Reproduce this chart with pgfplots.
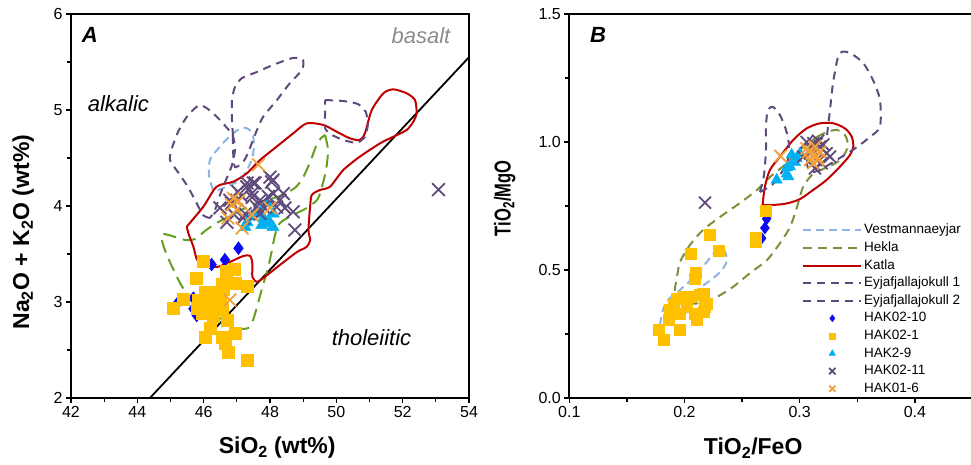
\documentclass[border=0pt]{standalone}
\usepackage{pgfplots}
\pgfplotsset{compat=1.18}
\usepackage{fontspec}
\setmainfont{Liberation Sans}
\definecolor{katla}{RGB}{192,0,0}
\definecolor{heklaA}{RGB}{102,160,32}
\definecolor{heklaB}{RGB}{119,147,60}
\definecolor{vest}{RGB}{141,180,226}
\definecolor{eyja}{RGB}{96,74,123}
\definecolor{hakblue}{RGB}{10,10,240}
\definecolor{hakyellow}{RGB}{255,192,0}
\definecolor{hakcyan}{RGB}{0,176,240}
\definecolor{hakorange}{RGB}{242,160,60}
\definecolor{basaltgray}{RGB}{140,140,140}
\pgfplotsset{
  lineleg/.style={legend image code/.code={\draw[##1, line width=2pt] (0pt,0pt) -- (58pt,0pt);}},
  markleg/.style={legend image code/.code={\draw[##1,mark size=#1] plot coordinates {(29pt,0pt)};}},
  common/.style={
    scale only axis, height=384pt,
    axis line style={line width=1.8pt},
    every tick/.style={black, line width=1.3pt},
    tick align=outside, xtick pos=bottom, ytick pos=left,
    major tick length=5pt, minor tick length=4pt,
    minor x tick num=1, minor y tick num=1,
    /pgf/number format/assume math mode=true,
    tick label style={font=\fontsize{16}{16}\selectfont},
    label style={font=\fontsize{23}{23}\bfseries},
  },
}
\begin{document}
\begin{tikzpicture}
\useasboundingbox (0,0) rectangle (971pt,465pt);
% ---------------- Panel A ----------------
\begin{axis}[common, at={(71pt,67pt)}, anchor=south west, width=398pt,
  xmin=42, xmax=54, ymin=2, ymax=6,
  xtick={42,44,...,54}, ytick={2,3,4,5,6},
  xlabel={SiO\textsubscript{2} (wt\%)},
  ylabel={Na\textsubscript{2}O + K\textsubscript{2}O (wt\%)},
  xlabel style={at={(axis description cs:0.518,-0.13)}, anchor=center},
  ylabel style={at={(axis description cs:-0.12,0.432)}, anchor=center},
]
\addplot[black, line width=1.8pt] coordinates {(44.38,2) (54,5.55)};
% Vestmannaeyjar
\addplot[vest, line width=2pt, dash pattern=on 8pt off 5pt, smooth, tension=0.5] coordinates {
(46.28,4.167)(46.16,4.323)(46.19,4.479)(46.43,4.594)(46.73,4.708)(47.03,4.792)(47.28,4.813)(47.46,4.760)(47.52,4.635)(47.46,4.500)(47.31,4.375)(47.09,4.271)(46.73,4.208)(46.43,4.167)(46.28,4.167)};
% Hekla
\addplot[heklaA, line width=2pt, dash pattern=on 13pt off 7pt, smooth, tension=0.4] coordinates {
(49.66,4.740)(49.75,4.583)(49.69,4.375)(49.54,4.167)(49.42,4.063)(49.11,3.979)(48.69,3.906)(48.30,3.823)(48.15,3.698)(48.06,3.542)(47.94,3.354)(47.79,3.177)(47.64,2.990)(47.49,2.813)(47.34,2.729)(47.10,2.719)(46.88,2.740)(46.49,2.833)(45.89,2.969)(45.53,3.073)(45.32,3.177)(45.17,3.281)(44.98,3.417)(44.83,3.542)(44.74,3.646)(44.77,3.708)(45.04,3.688)(45.44,3.646)(45.74,3.656)(46.04,3.740)(46.34,3.813)(46.79,3.896)(47.25,3.979)(47.70,4.042)(48.30,4.104)(48.75,4.188)(48.99,4.292)(49.21,4.458)(49.39,4.625)(49.54,4.708)(49.66,4.740)};
% Katla
\addplot[katla, line width=2pt, smooth, tension=0.45] coordinates {
(45.49,3.785)(45.99,3.993)(46.39,4.201)(46.89,4.253)(47.30,4.340)(47.70,4.479)(48.20,4.618)(48.70,4.757)(49.11,4.861)(49.61,4.844)(50.01,4.774)(50.41,4.705)(50.71,4.688)(50.86,4.757)(51.07,5.000)(51.42,5.174)(51.72,5.215)(52.12,5.174)(52.37,5.104)(52.42,4.965)(52.32,4.878)(52.12,4.792)(51.72,4.722)(51.32,4.653)(50.71,4.514)(50.21,4.375)(49.81,4.201)(49.51,4.167)(49.26,4.115)(49.21,3.993)(49.16,3.750)(49.21,3.646)(49.11,3.576)(48.81,3.52)(48.39,3.41)(47.91,3.28)(47.62,3.21)(47.47,3.26)(47.47,3.40)(47.40,3.48)(47.20,3.48)(46.79,3.417)(46.40,3.365)(46.00,3.39)(45.80,3.44)(45.69,3.576)(45.54,3.715)(45.49,3.785)};
% Eyjafjallajokull 1
\addplot[eyja, line width=2pt, dash pattern=on 8pt off 6pt, smooth, tension=0.4] coordinates {
(46.191,3.875)(45.980,3.906)(45.738,4.063)(45.527,4.198)(45.286,4.323)(44.985,4.479)(45.045,4.604)(45.226,4.771)(45.467,4.917)(45.678,5.000)(45.889,5.052)(46.130,5.010)(46.432,4.917)(46.703,4.813)(46.884,4.729)(46.944,4.583)(46.854,4.427)(46.673,4.271)(46.492,4.115)(46.341,3.958)(46.191,3.875)};
% Eyjafjallajokull 2
\addplot[eyja, line width=2pt, dash pattern=on 8pt off 6pt, smooth, tension=0.4] coordinates {
(46.884,4.729)(46.854,4.896)(46.854,5.104)(46.944,5.240)(47.155,5.333)(47.608,5.396)(48.090,5.469)(48.693,5.542)(48.994,5.521)(48.964,5.417)(48.602,5.281)(48.210,5.104)(47.788,4.927)(47.608,4.792)(47.487,4.688)(47.336,4.552)(47.185,4.458)(46.944,4.406)(46.884,4.583)(46.884,4.729)};
\addplot[eyja, line width=2pt, dash pattern=on 8pt off 6pt, smooth, tension=0.3] coordinates {
(49.66,5.104)(50.20,5.094)(50.65,5.063)(50.89,4.979)(50.95,4.844)(50.86,4.719)(50.62,4.656)(50.20,4.688)(49.81,4.750)(49.66,4.813)(49.66,4.969)(49.66,5.104)};
% HAK02-10
\addplot[only marks, mark=diamond*, mark size=6.5pt, mark options={fill=hakblue, draw=hakblue}] coordinates {
(46.24,3.39)(46.64,3.44)(47.05,3.56)(45.69,3.04)(45.79,2.86)(45.24,3.00)(46.49,2.93)(45.69,2.93)(45.9,2.98)};
% HAK02-1
\addplot[only marks, mark=square*, mark size=6pt, mark options={fill=hakyellow, draw=hakyellow}] coordinates {
(45.98,3.42)(45.77,3.25)(46.67,3.32)(46.91,3.34)(46.94,3.20)(47.31,3.16)(46.55,3.19)(46.04,3.10)(46.25,3.10)(45.38,3.03)(45.08,2.94)(45.83,3.02)(46.13,3.00)(46.49,3.00)(45.80,2.94)(46.13,2.90)(46.55,2.92)(46.70,2.81)(46.19,2.73)(46.04,2.63)(46.55,2.63)(46.94,2.68)(46.73,2.48)(46.64,2.57)(47.31,2.39)(46.58,3.13)(46.0,2.97)(46.3,2.95)(46.4,3.05)(45.95,2.88)(46.1,3.06)(46.3,2.85)};
% HAK2-9
\addplot[only marks, mark=triangle*, mark size=7pt, mark options={fill=hakcyan, draw=hakcyan}] coordinates {
(47.25,3.78)(47.31,3.83)(47.6,3.92)(47.70,3.93)(47.80,3.87)(48.0,3.82)(48.09,3.78)(47.45,3.89)(48.1,3.92)(47.91,4.03)(47.75,3.80)(47.95,3.85)};
% HAK02-11
\addplot[only marks, mark=x, mark size=9pt, mark options={draw=eyja, line width=1.8pt}] coordinates {
(47.0,4.06)(47.30,4.20)(47.50,4.24)(47.45,4.13)(47.15,4.10)(47.70,4.06)(48.05,4.25)(48.10,4.13)(48.30,4.06)(48.20,3.99)(48.70,3.94)(48.75,3.75)(46.84,4.03)(46.89,3.92)(47.80,3.99)(47.95,4.10)(47.6,3.99)(48.40,4.13)(53.08,4.17)(46.49,3.98)(47.25,3.92)(47.7,3.92)(46.79,4.06)(47.03,4.15)(47.31,4.24)(47.55,4.24)(47.46,4.09)(48.09,4.27)(48.45,3.98)(47.19,3.875)(46.70,3.83)(48.0,4.30)};
% HAK01-6
\addplot[only marks, mark=x, mark size=9pt, mark options={draw=hakorange, line width=1.8pt}] coordinates {
(47.65,4.43)(46.85,4.01)(47.0,3.96)(46.73,3.875)(47.16,3.77)(47.46,3.91)(48.0,3.98)(46.79,3.02)(47.05,4.05)(46.9,4.08)};
\node[font=\fontsize{22}{22}\selectfont\bfseries\itshape] at (axis cs:42.57,5.78) {A};
\node[font=\fontsize{22}{22}\selectfont\itshape, text=basaltgray] at (axis cs:52.55,5.77) {basalt};
\node[font=\fontsize{22}{22}\selectfont\itshape] at (axis cs:43.43,5.07) {alkalic};
\node[font=\fontsize{22}{22}\selectfont\itshape] at (axis cs:51.06,2.63) {tholeiitic};
\end{axis}
% ---------------- Panel B ----------------
\begin{axis}[common, at={(569.3pt,67pt)}, anchor=south west, width=403.2pt,
  xmin=0.1, xmax=0.45, ymin=0, ymax=1.5,
  xtick={0.1,0.2,0.3,0.4}, ytick={0,0.5,1.0,1.5},
  yticklabel style={/pgf/number format/.cd, fixed, fixed zerofill, precision=1},
  xticklabel style={/pgf/number format/.cd, fixed, fixed zerofill, precision=1},
  xlabel={TiO\textsubscript{2}/FeO},
  ylabel={\scalebox{0.72}[1]{TiO\textsubscript{2}/MgO}},
  xlabel style={at={(axis description cs:0.456,-0.13)}, anchor=center},
  ylabel style={at={(axis description cs:-0.16,0.52)}, anchor=center},
  legend cell align=left,
  legend style={at={(axis cs:0.2995,0.698)}, anchor=north west, draw=none, fill=none,
    font=\fontsize{13.5}{14}\selectfont, row sep=0pt,
    nodes={inner sep=1.8pt, text height=10.5pt, text depth=3.5pt}},
]
\addplot[vest, line width=2pt, dash pattern=on 8pt off 5pt, smooth, tension=0.5, lineleg] coordinates {
(0.1787,0.285)(0.1813,0.344)(0.1857,0.383)(0.1961,0.422)(0.2108,0.484)(0.2221,0.547)(0.2291,0.582)(0.2343,0.578)(0.2369,0.539)(0.2325,0.500)(0.2239,0.465)(0.2134,0.430)(0.2030,0.391)(0.1943,0.352)(0.1857,0.305)(0.1787,0.285)};
\addlegendentry{Vestmannaeyjar}
\addplot[heklaB, line width=2pt, dash pattern=on 9pt off 6pt, smooth, tension=0.45, lineleg] coordinates {
(0.3150,1.020)(0.3237,1.039)(0.3324,1.047)(0.3393,1.027)(0.3419,0.988)(0.3385,0.949)(0.3315,0.918)(0.3220,0.898)(0.3107,0.871)(0.3029,0.824)(0.2977,0.746)(0.2916,0.668)(0.2829,0.605)(0.2716,0.539)(0.2569,0.488)(0.2421,0.434)(0.2282,0.395)(0.2135,0.371)(0.2005,0.371)(0.1918,0.410)(0.1935,0.473)(0.1961,0.531)(0.2048,0.598)(0.2160,0.656)(0.2308,0.707)(0.2482,0.762)(0.2630,0.813)(0.2742,0.863)(0.2890,0.918)(0.3002,0.969)(0.3150,1.020)};
\addlegendentry{Hekla}
\addplot[katla, line width=2pt, smooth, tension=0.5, lineleg] coordinates {
(0.2678,0.754)(0.2698,0.826)(0.2742,0.891)(0.2829,0.943)(0.2944,1.008)(0.3060,1.053)(0.3176,1.073)(0.3292,1.073)(0.3393,1.053)(0.3451,1.021)(0.3465,0.982)(0.3436,0.949)(0.3350,0.904)(0.3234,0.852)(0.3118,0.813)(0.3002,0.777)(0.2887,0.760)(0.2771,0.754)(0.2678,0.754)};
\addlegendentry{Katla}
\addplot[eyja, line width=2pt, dash pattern=on 8pt off 6pt, smooth, tension=0.45, lineleg] coordinates {
(0.2655,0.805)(0.2690,0.871)(0.2707,0.969)(0.2707,1.066)(0.2725,1.125)(0.2768,1.137)(0.2829,1.105)(0.2881,1.047)(0.2907,0.988)(0.2898,0.930)(0.2846,0.883)(0.2760,0.832)(0.2655,0.805)};
\addlegendentry{Eyjafjallajokull 1}
\addplot[eyja, line width=2pt, dash pattern=on 8pt off 6pt, smooth, tension=0.45, lineleg] coordinates {
(0.3237,1.027)(0.3263,1.125)(0.3289,1.230)(0.3332,1.332)(0.3367,1.352)(0.3437,1.348)(0.3550,1.309)(0.3636,1.242)(0.3697,1.164)(0.3697,1.059)(0.3610,1.020)(0.3497,0.980)(0.3350,0.938)(0.3202,0.898)(0.3116,0.883)(0.3064,0.910)(0.3107,0.969)(0.3176,1.008)(0.3237,1.027)};
\addlegendentry{Eyjafjallajokull 2}
\addplot[only marks, mark=diamond*, mark size=6pt, mark options={fill=hakblue, draw=hakblue}, markleg=3.5pt] coordinates {
(0.2713,0.700)(0.2698,0.664)(0.2669,0.624)(0.2008,0.351)(0.2720,0.715)};
\addlegendentry{HAK02-10}
\addplot[only marks, mark=square*, mark size=5.5pt, mark options={fill=hakyellow, draw=hakyellow}, markleg=3pt] coordinates {
(0.1773,0.268)(0.1816,0.227)(0.1955,0.268)(0.1859,0.305)(0.1888,0.337)(0.1932,0.389)(0.1990,0.396)(0.2062,0.396)(0.2091,0.331)(0.2106,0.305)(0.2163,0.337)(0.2192,0.370)(0.2163,0.409)(0.2091,0.467)(0.2056,0.565)(0.2215,0.637)(0.2299,0.576)(0.2620,0.625)(0.2701,0.730)(0.1903,0.363)(0.2019,0.357)(0.1961,0.331)(0.2134,0.402)(0.2095,0.49)(0.1870,0.345)(0.2175,0.355)(0.2620,0.61)};
\addlegendentry{HAK02-1}
\addplot[only marks, mark=triangle*, mark size=6.5pt, mark options={fill=hakcyan, draw=hakcyan}, markleg=3.8pt] coordinates {
(0.2800,0.852)(0.2887,0.875)(0.2916,0.904)(0.2930,0.950)(0.2973,0.936)(0.2901,0.865)(0.3002,0.955)(0.2960,0.92)(0.2890,0.90)};
\addlegendentry{HAK2-9}
\addplot[only marks, mark=x, mark size=8.5pt, mark options={draw=eyja, line width=1.8pt}, markleg=4.5pt] coordinates {
(0.2178,0.763)(0.3060,1.000)(0.3118,0.995)(0.3176,0.982)(0.3234,0.956)(0.3147,0.930)(0.3089,0.956)(0.3205,0.990)(0.3263,0.943)(0.3133,0.897)(0.3031,0.943)(0.3191,0.917)(0.3100,0.975)(0.3160,1.005)};
\addlegendentry{HAK02-11}
\addplot[only marks, mark=x, mark size=8.5pt, mark options={draw=hakorange, line width=1.8pt}, markleg=4.5pt] coordinates {
(0.2834,0.945)(0.3060,0.975)(0.3104,0.956)(0.3147,0.943)(0.3089,0.930)(0.3133,0.982)(0.3176,0.962)(0.3118,0.917)(0.3075,0.962)(0.3162,0.930)(0.3120,0.950)};
\addlegendentry{HAK01-6}
\node[font=\fontsize{22}{22}\selectfont\bfseries\itshape] at (axis cs:0.125,1.418) {B};
\end{axis}
\end{tikzpicture}
\end{document}
